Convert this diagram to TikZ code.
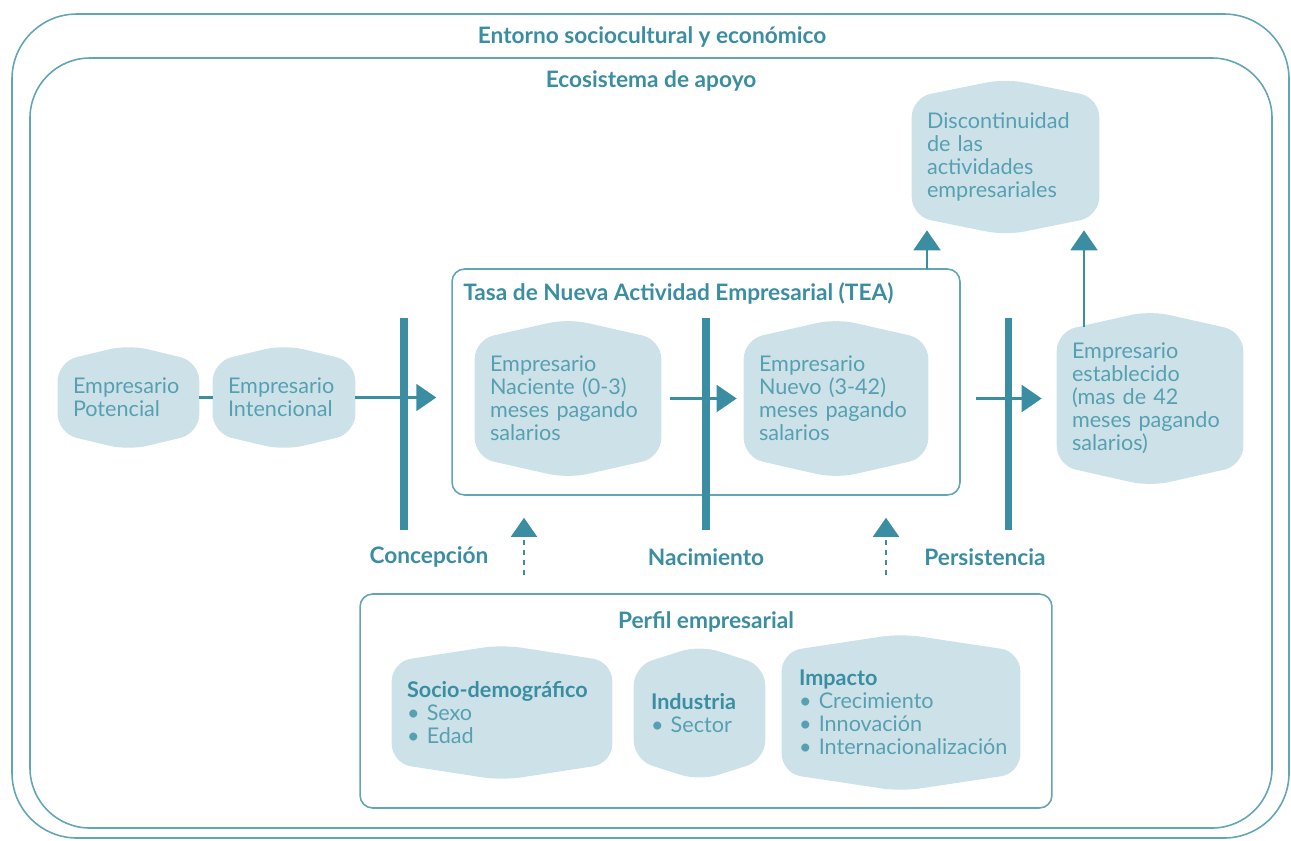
\documentclass[tikz,border=0pt]{standalone}
\usepackage{fontspec}
\setmainfont{Lato}
\usetikzlibrary{arrows.meta,backgrounds,calc}
\definecolor{tealdark}{HTML}{3B8DA2}
\definecolor{tealline}{HTML}{62A5B5}
\definecolor{hexfill}{HTML}{CCE2E8}
\definecolor{hextext}{HTML}{57A0B2}
\newcommand\bodyfont{\fontsize{12.3}{13.1}\selectfont}
\newcommand\headfont{\fontsize{12.9}{14}\selectfont\bfseries}
\newcommand\hexshape[2]{%
  \fill[hexfill,rounded corners=11pt] (#1.west) -- (#1.north west)
    -- ($(#1.north)+(0,#2)$) -- (#1.north east) -- (#1.south east)
    -- ($(#1.south)-(0,#2)$) -- (#1.south west) -- cycle;}
\tikzset{
  hexbox/.style={inner xsep=0.3cm, inner ysep=0pt, align=left, text=hextext, font=\bodyfont},
  title/.style={text=tealdark, font=\headfont, inner sep=0pt},
  stage/.style={text=tealdark, font=\fontsize{12.9}{14}\selectfont\bfseries, inner sep=0pt},
  panel/.style={draw=tealline, line width=0.9pt, rounded corners=0.25cm, inner sep=0pt},
  frame/.style={draw=tealline, line width=0.9pt},
  bar/.style={draw=tealdark, line width=4pt},
  link/.style={draw=tealdark, line width=1.2pt},
  flow/.style={link, -{Triangle[length=0.4cm,width=0.54cm]}},
  dotflow/.style={draw=tealdark, line width=1pt, dash pattern=on 0.1cm off 0.1cm,
    -{Triangle[length=0.38cm,width=0.52cm]}}
}
\begin{document}
\begin{tikzpicture}[x=0.02cm,y=-0.02cm]
  \useasboundingbox (0,0) rectangle (1291,840);
  \draw[frame,rounded corners=1.3cm] (12,14) rectangle (1289,838);
  \draw[frame,rounded corners=1.2cm] (30,58) rectangle (1272,828);
  \node[title] (entorno) at (652,37) {Entorno sociocultural y económico};
  \node[title] (ecosistema) at (651,81) {Ecosistema de apoyo};

  \node[panel,minimum width=10.16cm,minimum height=4.52cm] (tea) at (706,382) {};
  \node[title,anchor=west] (teatitle) at (463,293) {Tasa de Nueva Actividad Empresarial (TEA)};
  \node[panel,minimum width=13.84cm,minimum height=4.28cm] (perfil) at (706,701) {};
  \node[title] (perfiltitle) at (706,622) {Perfil empresarial};

  \node[hexbox,text width=2.22cm,minimum height=1.42cm] (potencial) at (128.5,397.5)
    {Empresario\\Potencial};
  \node[hexbox,text width=2.24cm,minimum height=1.42cm] (intencional) at (284,397.5)
    {Empresario\\Intencional};
  \node[hexbox,text width=3.12cm,minimum height=2.34cm] (naciente) at (568,398.5)
    {Empresario\\Naciente (0-3)\\meses pagando\\salarios};
  \node[hexbox,text width=3.08cm,minimum height=2.34cm] (nuevo) at (836,398.5)
    {Empresario\\Nuevo (3-42)\\meses pagando\\salarios};
  \node[hexbox,text width=3.14cm,minimum height=2.36cm] (disc) at (1005.5,157)
    {Discontinuidad\\de las\\actividades\\empresariales};
  \node[hexbox,text width=3.12cm,minimum height=2.66cm] (establecido) at (1150,398.5)
    {Empresario\\establecido\\(mas de 42\\meses pagando\\salarios)};
  \node[hexbox,text width=3.8cm,minimum height=2.02cm] (socio) at (502,712.5)
    {\textbf{\color{tealdark}Socio-demográfico}\\• Sexo\\• Edad};
  \node[hexbox,text width=1.94cm,minimum height=1.86cm,inner xsep=0.34cm] (industria) at (699.5,713)
    {\textbf{\color{tealdark}Industria}\\• Sector};
  \node[hexbox,text width=4.08cm,minimum height=2.42cm,inner xsep=0.34cm] (impacto) at (901,712.5)
    {\textbf{\color{tealdark}Impacto}\\• Crecimiento\\• Innovación\\\mbox{• Internacionalización}};

  \begin{pgfonlayer}{background}
    \hexshape{potencial}{0.34cm}
    \hexshape{intencional}{0.34cm}
    \hexshape{naciente}{0.42cm}
    \hexshape{nuevo}{0.42cm}
    \hexshape{disc}{0.38cm}
    \hexshape{establecido}{0.42cm}
    \hexshape{socio}{0.34cm}
    \hexshape{industria}{0.42cm}
    \hexshape{impacto}{0.36cm}
  \end{pgfonlayer}

  \draw[link] (potencial) -- (intencional);
  \draw[flow,shorten >=0.3cm] (intencional.east) -- (intencional.east -| tea.west);
  \draw[flow,shorten <=0.18cm,shorten >=0.14cm] (naciente) -- (nuevo);
  \draw[flow,shorten <=0.3cm,shorten >=0.3cm] (nuevo.east -| tea.east) -- (nuevo.east -| establecido.west);

  \coordinate (teaout) at (927,269);
  \coordinate (estout) at (1084,327);
  \draw[flow,shorten >=0.28cm] (teaout) -- (teaout |- disc.south);
  \draw[flow,shorten >=0.28cm] (estout) -- (estout |- disc.south);

  \draw[bar] (404,318) -- (404,530);
  \draw[bar] (706,318) -- (706,530);
  \draw[bar] (1008,318) -- (1008,530);
  \node[stage] (concepcion) at (429,557) {Concepción};
  \node[stage] (nacimiento) at (706,557) {Nacimiento};
  \node[stage] (persistencia) at (985,557) {Persistencia};

  \coordinate (dotA) at (524,594);
  \coordinate (dotB) at (886,594);
  \draw[dotflow,shorten <=0.38cm,shorten >=0.44cm] (dotA) -- (dotA |- tea.south);
  \draw[dotflow,shorten <=0.38cm,shorten >=0.44cm] (dotB) -- (dotB |- tea.south);
\end{tikzpicture}
\end{document}
